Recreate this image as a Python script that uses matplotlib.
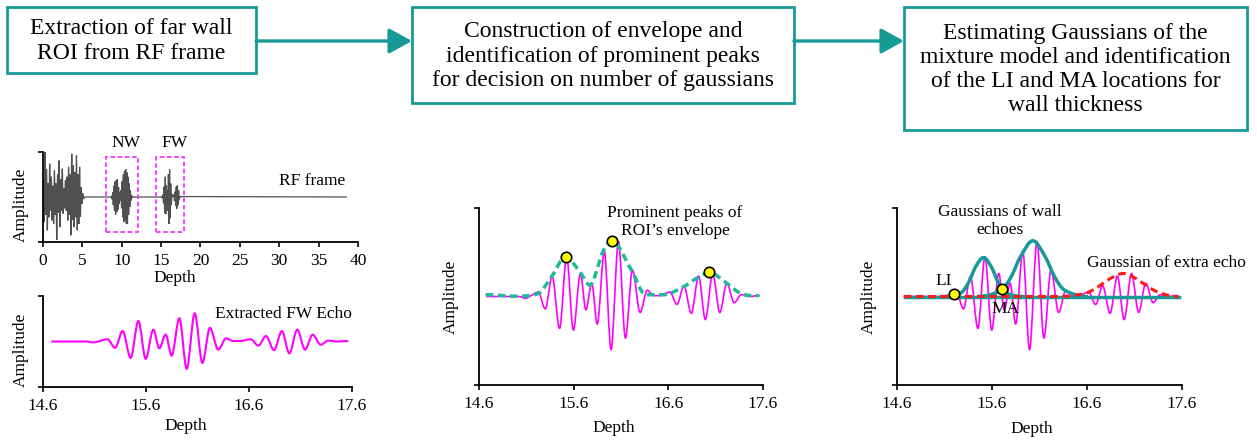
import numpy as np
import matplotlib
matplotlib.use('Agg')
import matplotlib.pyplot as plt
from matplotlib.path import Path
from matplotlib.patches import PathPatch, Rectangle, FancyArrowPatch

plt.rcParams['font.family'] = ['Liberation Serif', 'DejaVu Serif']

# ---- data ----
step_texts = ['Extraction of far wall\nROI from RF frame',
              'Construction of envelope and\nidentification of prominent peaks\nfor decision on number of gaussians',
              'Estimating Gaussians of the\nmixture model and identification\nof the LI and MA locations for\nwall thickness']

# RF frame: near-field reverberation (extrema)
rf_head_x = np.linspace(0.05, 5.15, 52)
rf_head_y = [0.35, -0.55, 1.00, -0.40, 0.62, -0.74, 0.30, -0.45, 0.74, -0.30,
             0.45, -0.52, 0.25, -0.60, 0.59, -0.40, 0.30, -0.95, 0.50, -0.35,
             0.81, -0.67, 0.40, -0.30, 0.63, -0.37, 0.20, -0.25, 0.37, -0.30,
             0.45, -0.52, 0.67, -0.40, 0.50, -0.85, 0.96, -0.50, 0.70, -0.67,
             0.55, -0.45, 0.93, -0.74, 0.50, -0.60, 0.67, -0.44, 0.22, -0.15,
             0.08, -0.04]
# near wall echo (extrema)
nw_x = np.linspace(8.7, 11.325, 36)
nw_y = [0.02, -0.05, 0.10, -0.18, 0.25, -0.30, 0.34, -0.39, 0.37, -0.33,
        0.40, -0.28, 0.22, -0.15, 0.10, -0.08, 0.15, -0.25, 0.35, -0.45,
        0.50, -0.55, 0.58, -0.50, 0.62, -0.59, 0.55, -0.60, 0.45, -0.40,
        0.30, -0.22, 0.15, -0.08, 0.04, -0.02]
rf_end = 38.6

# far wall echo (extrema), depth vs amplitude
echo_x = [14.68, 15.02, 15.09, 15.15, 15.225, 15.30, 15.373, 15.451, 15.526, 15.597,
          15.671, 15.729, 15.791, 15.849, 15.924, 15.995, 16.073, 16.147, 16.221, 16.302,
          16.377, 16.448, 16.513, 16.616, 16.691, 16.765, 16.843, 16.92, 16.991, 17.069,
          17.144, 17.218, 17.296, 17.37, 17.451, 17.564]
echo_y = [0.0, 0.0, -0.02, 0.01, 0.05, -0.14, 0.23, -0.36, 0.45, -0.38,
          0.26, -0.15, 0.15, -0.31, 0.51, -0.60, 0.62, -0.47, 0.30, -0.18,
          0.07, 0.01, 0.01, 0.05, -0.09, 0.12, -0.19, 0.23, -0.26, 0.26,
          -0.18, 0.15, -0.07, 0.02, 0.0, 0.01]

# envelope and its prominent peaks
env_x = [14.67, 15.22, 15.37, 15.515, 15.67, 15.77, 15.91, 16.00, 16.21, 16.36,
         16.55, 16.76, 16.92, 17.03, 17.23, 17.37, 17.56]
env_y = [0.02, 0.03, 0.23, 0.45, 0.27, 0.13, 0.51, 0.63, 0.30, 0.02,
         0.02, 0.11, 0.22, 0.27, 0.14, 0.03, 0.01]
peak_x = [15.515, 16.00, 17.03]
peak_y = [0.45, 0.63, 0.275]

# fitted gaussians
g1_x = [15.05, 15.27, 15.35, 15.43, 15.51, 15.59, 15.67, 15.75, 15.95]
g1_y = [0.0, 0.04, 0.15, 0.34, 0.44, 0.34, 0.15, 0.04, 0.0]
g2_x = [15.45, 15.70, 15.80, 15.90, 16.03, 16.16, 16.26, 16.36, 16.61]
g2_y = [0.0, 0.075, 0.22, 0.45, 0.63, 0.45, 0.22, 0.075, 0.0]
g3_x = [14.67, 16.30, 16.58, 16.70, 16.84, 16.98, 17.12, 17.26, 17.38, 17.56]
g3_y = [0.0, 0.0, 0.035, 0.098, 0.20, 0.26, 0.20, 0.098, 0.035, 0.0]
bound_x = [15.20, 15.70]
bound_y = [0.03, 0.085]

rf_ticks = [0, 5, 10, 15, 20, 25, 30, 35, 40]
roi_ticks = [14.6, 15.6, 16.6, 17.6]
roi_ticklabels = ['14.6', '15.6', '16.6', '17.6']

teal = '#179a96'
env_col = '#1fb99b'
magenta = '#ff00ff'


def smooth(xs, ys):
    # cubic bezier through the points, flat at local extrema
    xs = np.asarray(xs, float)
    ys = np.asarray(ys, float)
    n = len(xs)
    m = np.zeros(n)
    for i in range(1, n - 1):
        if (ys[i] - ys[i - 1]) * (ys[i + 1] - ys[i]) > 0:
            m[i] = (ys[i + 1] - ys[i - 1]) / (xs[i + 1] - xs[i - 1])
    verts = [(xs[0], ys[0])]
    codes = [Path.MOVETO]
    for i in range(n - 1):
        d = xs[i + 1] - xs[i]
        verts += [(xs[i] + d / 3, ys[i] + m[i] * d / 3),
                  (xs[i + 1] - d / 3, ys[i + 1] - m[i + 1] * d / 3),
                  (xs[i + 1], ys[i + 1])]
        codes += [Path.CURVE4] * 3
    return Path(verts, codes)


def curve(ax, xs, ys, **kw):
    ax.add_patch(PathPatch(smooth(xs, ys), fill=False, **kw))


fig = plt.figure(figsize=(12.57, 4.43), dpi=100)
bg = fig.add_axes([0, 0, 1, 1])
bg.set_xlim(0, 1257)
bg.set_ylim(443, 0)
bg.axis('off')


def px_axes(x0, y0, x1, y1):
    return fig.add_axes([x0 / 1257, 1 - y1 / 443, (x1 - x0) / 1257, (y1 - y0) / 443])


def style(ax, xlim, ticks, labels, xlab, ylab):
    ax.set_xlim(xlim)
    ax.set_ylim(-1, 1)
    ax.patch.set_alpha(0)
    for s in ['top', 'right']:
        ax.spines[s].set_visible(False)
    for s in ['left', 'bottom']:
        ax.spines[s].set_linewidth(1.3)
    ax.set_xticks(ticks)
    ax.set_xticklabels(labels)
    ax.set_yticks([-1, 1])
    ax.set_yticklabels([])
    ax.tick_params(direction='out', length=3.5, width=1.2, labelsize=12.5, pad=4.5)
    ax.set_xlabel('Depth', fontsize=12.5)
    ax.set_ylabel('Amplitude', fontsize=12.5)
    ax.xaxis.set_label_coords(*xlab, transform=bg.transData)
    ax.yaxis.set_label_coords(*ylab, transform=bg.transData)
    ax.xaxis.label.set_va('center')
    ax.yaxis.label.set_va('center')


# ---- flow chart boxes ----
boxes = [(7, 7, 256, 73), (412, 7, 794, 103), (904, 7, 1247, 130)]
for (x0, y0, x1, y1), t in zip(boxes, step_texts):
    bg.add_patch(Rectangle((x0, y0), x1 - x0, y1 - y0, fill=False, ec=teal, lw=2))
    bg.text((x0 + x1) / 2, (y0 + y1) / 2 + 1, t, ha='center', va='center',
            fontsize=17, linespacing=1.2)
for a, b in [(boxes[0], boxes[1]), (boxes[1], boxes[2])]:
    bg.add_patch(FancyArrowPatch((a[2], 41), (b[0], 41),
                                 arrowstyle='-|>,head_length=1.0,head_width=0.55',
                                 mutation_scale=14, lw=2.4, color=teal,
                                 shrinkA=0, shrinkB=0))

# ---- panel 1: RF frame ----
ax1 = px_axes(43, 152, 358, 242)
rf_x = np.concatenate([rf_head_x, [5.3, 8.6], nw_x, [11.45], echo_x, [rf_end]])
rf_y = np.concatenate([rf_head_y, [0, 0], nw_y, [0], echo_y, [0]])
curve(ax1, rf_x, rf_y, ec='#505050', lw=0.9)
for x0, x1 in [(8.0, 12.06), (14.35, 17.9)]:
    ax1.add_patch(Rectangle((x0, -0.78), x1 - x0, 1.67, fill=False, ec='#ff33ff',
                            ls=(0, (2.5, 1.5)), lw=1.3, clip_on=False))
ax1.text(10.5, 1.2, 'NW', ha='center', va='center', fontsize=12.5, clip_on=False)
ax1.text(16.75, 1.2, 'FW', ha='center', va='center', fontsize=12.5, clip_on=False)
ax1.text(30.0, 0.36, 'RF frame', ha='left', va='center', fontsize=12.5)
style(ax1, (0, 40), rf_ticks, [str(t) for t in rf_ticks], (175, 278), (21, 205))

# ---- panel 2: extracted FW echo ----
ax2 = px_axes(43, 296, 352, 387)
curve(ax2, echo_x, echo_y, ec=magenta, lw=1.5)
ax2.text(16.27, 0.60, 'Extracted FW Echo', ha='left', va='center', fontsize=12.5)
style(ax2, (14.6, 17.6), roi_ticks, roi_ticklabels, (186, 426), (21, 350))

# ---- panel 3: envelope and prominent peaks ----
ax3 = px_axes(479, 208, 763, 385)
curve(ax3, echo_x, echo_y, ec=magenta, lw=1.2, zorder=2)
curve(ax3, env_x, env_y, ec=env_col, lw=2.5, ls=(0, (2.2, 1.3)), zorder=3)
ax3.plot(peak_x, peak_y, 'o', ms=7.5, mfc='#ffff00', mec='black', mew=1.2,
         zorder=5, clip_on=False)
ax3.text(16.67, 0.84, 'Prominent peaks of\nROI\u2019s envelope', ha='center', va='center',
         fontsize=12.5, linespacing=1.2)
style(ax3, (14.6, 17.6), roi_ticks, roi_ticklabels, (614, 428), (451, 297))

# ---- panel 4: gaussian mixture ----
ax4 = px_axes(897, 208, 1182, 385)
curve(ax4, echo_x, echo_y, ec=magenta, lw=1.2, zorder=2)
ax4.plot([echo_x[0], echo_x[-1]], [0, 0], color=teal, lw=2.5, zorder=3)
curve(ax4, g1_x, g1_y, ec=teal, lw=2.5, zorder=3)
curve(ax4, g2_x, g2_y, ec=teal, lw=2.5, zorder=3)
curve(ax4, g3_x, g3_y, ec='#ff1a1a', lw=2.2, ls=(0, (2.5, 1.5)), zorder=4)
ax4.plot(bound_x, bound_y, 'o', ms=7.5, mfc='#ffff00', mec='black', mew=1.2,
         zorder=5, clip_on=False)
ax4.text(15.09, 0.18, 'LI', ha='center', va='center', fontsize=12.5)
ax4.text(15.74, -0.14, 'MA', ha='center', va='center', fontsize=12.5)
ax4.text(15.68, 0.855, 'Gaussians of wall\nechoes', ha='center', va='center',
         fontsize=12.5, linespacing=1.2)
ax4.text(17.44, 0.376, 'Gaussian of extra echo', ha='center', va='center',
         fontsize=12.5, clip_on=False)
style(ax4, (14.6, 17.6), roi_ticks, roi_ticklabels, (1032, 429), (869, 297))

fig.savefig('out.png', dpi=100)
